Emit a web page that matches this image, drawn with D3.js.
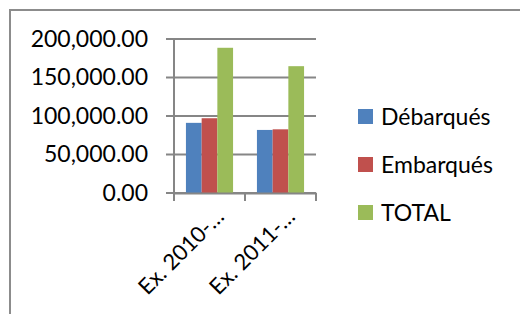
<!DOCTYPE html>
<html>
<head>
<meta charset="utf-8">
<script src="https://cdn.jsdelivr.net/npm/d3@7"></script>
<style>
  body { margin: 0; background: #fff; }
  text { font-family: Lato, "Open Sans", sans-serif; fill: #000; }
</style>
</head>
<body>
<div id="chart"></div>
<script>
// Chart data
var categories = ["Ex. 2010-…", "Ex. 2011-…"];
var seriesNames = ["Débarqués", "Embarqués", "TOTAL"];
var debarques = [91100, 81900];
var embarques = [97100, 82700];
var total = [188600, 164700];
var yTicks = [0, 50000, 100000, 150000, 200000];

var colors = ["#4f81bd", "#c0504d", "#9bbb59"];
var seriesValues = [debarques, embarques, total];

var svgWidth = 520;
var svgHeight = 314;

var margin = { top: 39, left: 174 };
var width = 142;
var height = 154;

var svg = d3.select("#chart")
    .append("svg")
    .attr("width", svgWidth)
    .attr("height", svgHeight);

// outer chart frame (runs off the right and bottom edges)
svg.append("rect")
    .attr("x", 10)
    .attr("y", 10)
    .attr("width", 530)
    .attr("height", 330)
    .attr("fill", "none")
    .attr("stroke", "#8c8c8c")
    .attr("stroke-width", 2);

var chartGroup = svg.append("g")
    .attr("transform", `translate(${margin.left}, ${margin.top})`);

// Scales
var xScale = d3.scaleBand()
    .domain(categories)
    .range([0, width]);

var xInner = d3.scaleBand()
    .domain(seriesNames)
    .range([0, xScale.bandwidth()])
    .paddingInner(0)
    .paddingOuter(0.76);

var yScale = d3.scaleLinear()
    .domain([0, 200000])
    .range([height, 0]);

// Gridlines
chartGroup.selectAll(".grid")
    .data(yTicks)
    .enter()
    .append("line")
    .attr("x1", -8)
    .attr("x2", width)
    .attr("y1", d => yScale(d))
    .attr("y2", d => yScale(d))
    .attr("stroke", "#868686")
    .attr("stroke-width", 2);

// Y axis
var leftAxis = d3.axisLeft(yScale)
    .tickValues(yTicks)
    .tickSize(0)
    .tickPadding(26)
    .tickFormat(d3.format(",.2f"));

var yAxisG = chartGroup.append("g").call(leftAxis);
yAxisG.select(".domain").remove();
yAxisG.selectAll("text")
    .attr("font-size", "23px")
    .attr("font-family", "Lato, sans-serif");

chartGroup.append("line")
    .attr("x1", 0).attr("x2", 0)
    .attr("y1", 0).attr("y2", height)
    .attr("stroke", "#868686")
    .attr("stroke-width", 2);

// Bars
var groups = chartGroup.selectAll(".cat")
    .data(categories)
    .enter()
    .append("g")
    .attr("transform", d => `translate(${xScale(d)}, 0)`);

groups.selectAll("rect")
    .data((d, i) => seriesNames.map((s, j) => ({ series: s, value: seriesValues[j][i], color: colors[j] })))
    .enter()
    .append("rect")
    .attr("x", d => xInner(d.series))
    .attr("y", d => yScale(d.value))
    .attr("width", xInner.bandwidth())
    .attr("height", d => height - yScale(d.value))
    .attr("fill", d => d.color);

// X axis
var bottomAxis = d3.axisBottom(xScale)
    .tickSize(0)
    .tickFormat("");

var xAxisG = chartGroup.append("g")
    .attr("transform", `translate(0, ${height})`)
    .call(bottomAxis);
xAxisG.select(".domain")
    .attr("stroke", "#868686")
    .attr("stroke-width", 2);

// category boundary tick marks
chartGroup.selectAll(".xtick")
    .data(d3.range(categories.length + 1))
    .enter()
    .append("line")
    .attr("x1", i => i * xScale.step())
    .attr("x2", i => i * xScale.step())
    .attr("y1", height)
    .attr("y2", height + 8)
    .attr("stroke", "#868686")
    .attr("stroke-width", 2);

// rotated category labels
chartGroup.selectAll(".xlabel")
    .data(categories)
    .enter()
    .append("text")
    .attr("transform", d => `translate(${xScale(d) + xScale.bandwidth() / 2 + 16}, ${height + 25}) rotate(-45)`)
    .attr("text-anchor", "end")
    .attr("font-size", "22px")
    .text(d => d);

// Legend
var legend = svg.append("g")
    .attr("transform", "translate(358, 109)");

var legendItems = legend.selectAll("g")
    .data(seriesNames)
    .enter()
    .append("g")
    .attr("transform", (d, i) => `translate(0, ${i * 48})`);

legendItems.append("rect")
    .attr("width", 15)
    .attr("height", 15)
    .attr("fill", (d, i) => colors[i]);

legendItems.append("text")
    .attr("x", 23)
    .attr("y", 8)
    .attr("dy", "0.35em")
    .attr("font-size", "23px")
    .text(d => d);
</script>
</body>
</html>
